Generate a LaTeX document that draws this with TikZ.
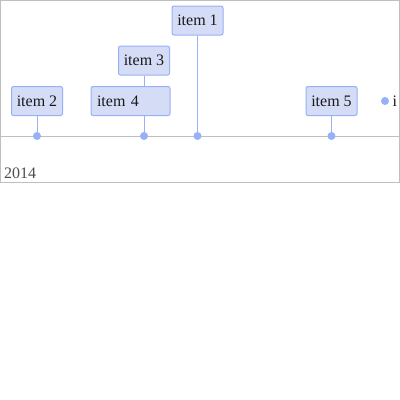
\documentclass[tikz,border=0pt]{standalone}
\usepackage{fontspec}
\setmainfont{Liberation Serif}
\definecolor{boxfill}{HTML}{D5DDF6}
\definecolor{boxline}{HTML}{97B0F8}
\definecolor{frame}{HTML}{BFBFBF}
\definecolor{itemtext}{HTML}{1A1A1A}
\definecolor{axistext}{HTML}{4D4D4D}
\begin{document}
\begin{tikzpicture}[x=1pt,y=-1pt,
  itembox/.style={draw=boxline, fill=boxfill, line width=1pt, rounded corners=2pt,
    minimum width=51pt, minimum height=29pt, inner sep=0pt, text=itemtext,
    font=\fontsize{16}{16}\selectfont},
  dotmark/.style={circle, fill=boxline, draw=none, minimum size=8pt, inner sep=0pt},
  stem/.style={draw=boxline, line width=1pt}]
\useasboundingbox (0,0) rectangle (400,400);
\fill[white] (0,0) rectangle (400,400);
% frame and axis
\draw[frame, line width=1pt] (0.5,0.5) rectangle (399.5,182.5);
\coordinate (axL) at (0,136);
\coordinate (axR) at (400,136);
\draw[frame, line width=1pt] (axL) -- (axR);
\node[anchor=base west, inner sep=0pt, text=axistext, font=\fontsize{16}{16}\selectfont] (y2014) at (4,178) {2014};
% boxes
\node[itembox] (i2) at (37,101) {item 2};
\node[itembox, minimum width=79pt, text width=67pt, inner xsep=6pt, align=left] (i4) at (130.5,101) {item 4};
\node[itembox] (i3) at (144,60.5) {item 3};
\node[itembox] (i1) at (197.5,20.5) {item 1};
\node[itembox] (i5) at (331.5,101) {item 5};
% dots
\node[dotmark] (d2) at (37,136) {};
\node[dotmark] (d4) at (144,136) {};
\node[dotmark] (d1) at (197.5,136) {};
\node[dotmark] (d5) at (331.5,136) {};
\node[dotmark] (d6) at (385,101) {};
\node[anchor=west, inner sep=0pt, text=itemtext, font=\fontsize{16}{16}\selectfont] (t6) at (392.5,101) {i};
% stems
\draw[stem] (i2.south) -- (d2.center);
\draw[stem] (i4.south -| d4) -- (d4.center);
\draw[stem] (i3.south) -- (i3.south |- i4.north);
\draw[stem] (i1.south) -- (d1.center);
\draw[stem] (i5.south) -- (d5.center);
\end{tikzpicture}
\end{document}
